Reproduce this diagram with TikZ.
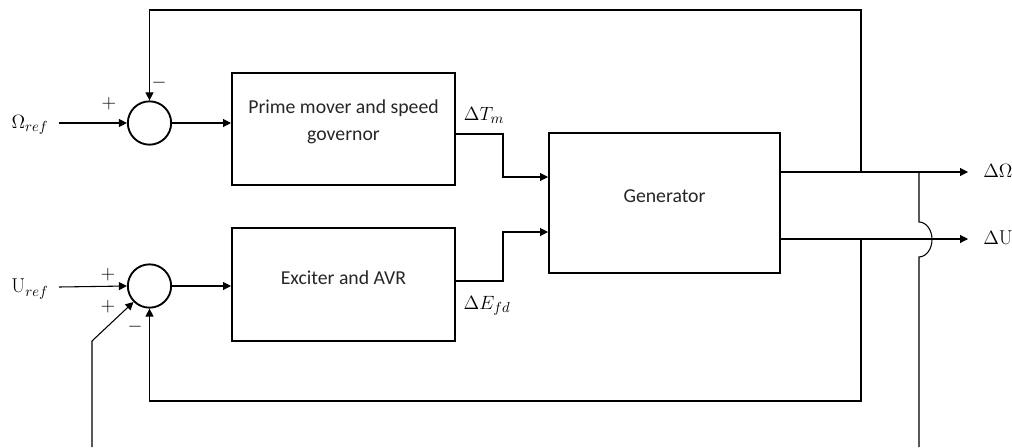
\documentclass[tikz,border=0pt]{standalone}
\usepackage{fontspec}
\newfontfamily\boxfont{Carlito}
\usetikzlibrary{arrows.meta}
\begin{document}
\begin{tikzpicture}[x=0.75pt,y=-0.75pt,
  blk/.style={draw,line width=1.5pt,minimum width=167.25pt,inner sep=0pt},
  sumc/.style={draw,circle,line width=1.4pt,minimum size=32.5pt,inner sep=0pt},
  conn/.style={line width=0.8pt},
  arr/.style={conn,-{Triangle[length=6pt,width=6pt]}},
  btxt/.style={font=\boxfont\fontsize{14.8}{20.25}\selectfont,align=center,text=black!85,inner sep=0pt},
  lbl/.style={font=\fontsize{15}{17}\selectfont,inner sep=0pt},
  sgn/.style={font=\fontsize{15}{16}\selectfont,inner sep=0pt}]
\useasboundingbox (0,0) rectangle (1012,447);

% summing junctions
\node[sumc] (s1) at (149.5,123) {};
\node[sumc] (s2) at (149.5,286) {};

% blocks
\node[blk,minimum height=84pt] (b1) at (343.5,129) {};
\node[blk,minimum height=84.75pt] (b2) at (343.5,284.5) {};
\node[blk,minimum width=173.25pt,minimum height=105pt] (g) at (664.5,203) {};
\node[btxt] (b1t) at (343.5,121.5) {Prime mover and speed\\governor};
\node[btxt] (b2t) at (343.5,278) {Exciter and AVR};
\node[btxt] (gt) at (664.5,196) {Generator};

% input labels
\node[lbl] (om) at (30,125) {$\Omega_{ref}$};
\node[lbl] (ur) at (30,289) {$\mathrm{U}_{ref}$};
\coordinate (i1) at (59,123);
\coordinate (i2) at (59,287);
\draw[arr] (i1) -- (s1.west);
\draw[arr] (i2) -- (s2.west);
\node[sgn] (p1) at (109,104) {$+$};
\node[sgn] (m1) at (159,83) {$-$};
\node[sgn] (p2) at (108,275) {$+$};
\node[sgn] (p3) at (108,307) {$+$};
\node[sgn] (m2) at (135,327) {$-$};

% sum -> blocks
\draw[arr] (s1.east) -- (s1.east -| b1.west);
\draw[arr] (s2.east) -- (s2.east -| b2.west);

% blocks -> generator
\coordinate (o1) at (455,134);
\coordinate (k1a) at (503,134);
\coordinate (k1b) at (503,177);
\draw[arr] (o1) -- (k1a) -- (k1b) -- (k1b -| g.west);
\coordinate (o2) at (455,281);
\coordinate (k2a) at (503,281);
\coordinate (k2b) at (503,232);
\draw[arr] (o2) -- (k2a) -- (k2b) -- (k2b -| g.west);
\node[lbl] (dtm) at (484,115) {$\Delta T_m$};
\node[lbl] (def) at (487,306) {$\Delta E_{fd}$};

% outputs
\coordinate (go1) at (780,172);
\coordinate (go2) at (780,239);
\coordinate (e1) at (968,172);
\coordinate (e2) at (968,239);
\draw[arr] (go1) -- (e1);
\draw[arr] (go2) -- (e2);
\node[lbl,anchor=west] (dO) at (983,171) {$\Delta\Omega$};
\node[lbl,anchor=west] (dU) at (983,238) {$\Delta\mathrm{U}$};

% speed feedback (top)
\coordinate (j1) at (861,172);
\coordinate (t1) at (149.5,10);
\draw[arr] (j1) |- (t1) -- (s1.north);

% voltage feedback (bottom)
\coordinate (j2) at (861,239);
\coordinate (t2) at (149.5,401);
\draw[arr] (j2) |- (t2) -- (s2.south);

% line from speed output, crossing the voltage line
\coordinate (j3) at (919,172);
\coordinate (c1) at (919,222);
\coordinate (bt1) at (919,447);
\draw[conn] (j3) -- (c1) arc[start angle=90,end angle=-90,x radius=9.75pt,y radius=13.1pt] -- (bt1);

% line into the second summing junction from below
\coordinate (bt2) at (92,447);
\coordinate (d1) at (92,341);
\draw[arr] (bt2) -- (d1) -- (s2.south west);
\end{tikzpicture}
\end{document}
